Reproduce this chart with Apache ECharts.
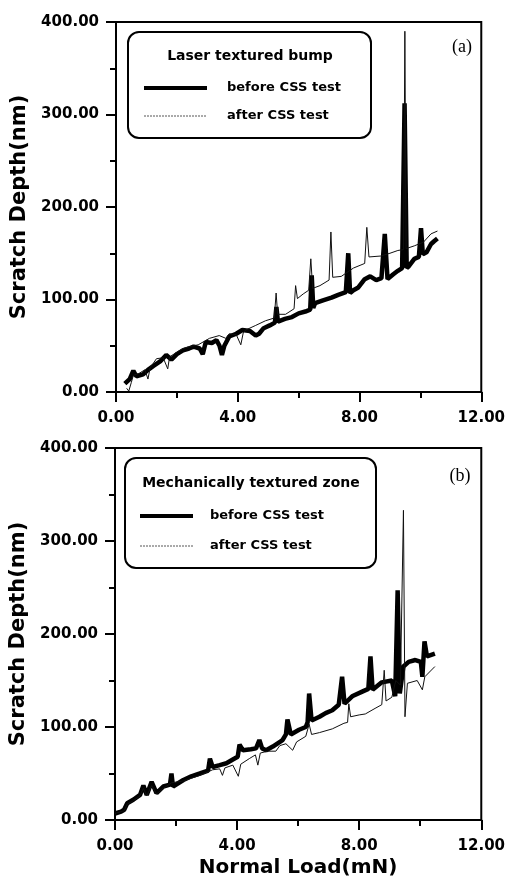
<!DOCTYPE html>
<html><head><meta charset="utf-8">
<script src="https://cdn.jsdelivr.net/npm/echarts@6/dist/echarts.min.js"></script>
<style>html,body{margin:0;padding:0;background:#fff}#c{width:508px;height:886px}</style>
</head><body><div id="c"></div>
<script>
// ---- data (x = Normal Load mN, y = Scratch Depth nm) ----
const topBefore = [[0.29,9],[0.45,14],[0.57,23],[0.67,17],[0.89,19],[1.05,24],[1.22,28],[1.45,33],[1.65,40],[1.82,35],[2.0,41],[2.2,45],[2.4,47],[2.55,49],[2.75,47],[2.85,41],[2.95,54],[3.15,53],[3.3,56],[3.4,50],[3.48,40],[3.56,50],[3.72,60],[3.95,63],[4.15,67],[4.4,66],[4.59,61],[4.7,63],[4.85,69],[5.05,72],[5.22,75],[5.27,92],[5.32,76],[5.55,79],[5.78,81],[6.0,85],[6.22,87],[6.38,89],[6.43,126],[6.48,91],[6.54,96],[6.8,99],[7.08,102],[7.3,105],[7.55,108],[7.63,150],[7.69,107],[7.8,110],[7.96,113],[8.17,122],[8.35,125],[8.55,121],[8.72,123],[8.83,171],[8.92,122],[9.1,127],[9.26,131],[9.4,134],[9.48,312],[9.55,134],[9.62,136],[9.8,144],[9.95,146],[10.02,177],[10.08,149],[10.2,151],[10.35,160],[10.45,163],[10.56,166]];
const topAfter = [[0.35,4],[0.42,1],[0.5,10],[0.57,18],[0.75,20],[0.95,24],[1.05,14],[1.12,26],[1.33,36],[1.55,37],[1.7,25],[1.76,38],[2.0,43],[2.2,47],[2.41,49],[2.7,51],[3.07,58],[3.39,61],[3.61,58],[3.72,63],[3.95,62],[4.1,51],[4.18,64],[4.26,67],[4.59,72],[4.91,77],[5.2,80],[5.26,107],[5.31,84],[5.57,84],[5.85,90],[5.9,115],[5.96,101],[6.15,106],[6.33,110],[6.4,144],[6.46,112],[6.7,115],[7.0,121],[7.06,173],[7.12,124],[7.4,125],[7.8,134],[8.17,139],[8.24,178],[8.31,146],[8.7,147],[9.0,150],[9.26,153],[9.45,154],[9.49,390],[9.53,155],[9.8,158],[10.1,162],[10.35,171],[10.56,174]];
const botBefore = [[0,7],[0.2,9],[0.3,11],[0.4,18],[0.61,22],[0.82,27],[0.93,37],[1.04,27],[1.2,41],[1.36,29],[1.58,36],[1.8,38],[1.85,50],[1.9,36],[2.24,43],[2.5,47],[2.78,50],[3.05,53],[3.11,66],[3.2,57],[3.43,59],[3.65,61],[3.86,65],[4.02,68],[4.08,81],[4.19,75],[4.45,76],[4.62,77],[4.73,86],[4.82,77],[4.95,75],[5.17,79],[5.49,86],[5.6,92],[5.65,108],[5.76,92],[6.03,97],[6.25,100],[6.31,105],[6.36,136],[6.44,107],[6.7,111],[6.9,115],[7.12,118],[7.33,124],[7.39,126],[7.44,154],[7.52,125],[7.77,133],[8.1,138],[8.3,141],[8.37,176],[8.44,140],[8.74,148],[9.07,150],[9.18,133],[9.26,247],[9.33,136],[9.45,165],[9.62,170],[9.84,172],[10.02,170],[10.07,154],[10.14,192],[10.22,176],[10.48,179]];
const botAfter = [[0,7],[0.3,10],[0.4,17],[0.61,21],[0.82,26],[0.93,34],[1.04,26],[1.2,37],[1.36,28],[1.58,34],[1.85,40],[2.24,42],[2.78,48],[3.2,54],[3.43,55],[3.52,48],[3.6,56],[3.86,59],[4.04,47],[4.12,60],[4.4,66],[4.6,70],[4.68,59],[4.76,72],[5.0,74],[5.27,74],[5.4,80],[5.6,82],[5.82,75],[5.95,84],[6.25,90],[6.36,103],[6.44,92],[6.7,94],[7.12,98],[7.5,104],[7.62,105],[7.66,125],[7.72,111],[8.0,113],[8.2,114],[8.52,120],[8.74,124],[8.82,161],[8.88,128],[9.07,132],[9.2,150],[9.35,145],[9.45,333],[9.5,111],[9.58,147],[9.9,150],[10.07,140],[10.15,154],[10.48,165]];
const xRange = [0, 12], xStep = 4;
const yRange = [0, 400], yStep = 100;
const legendTitles = ['Laser textured bump', 'Mechanically textured zone'];
const seriesNames = ['before CSS test', 'after CSS test'];
const panelTags = ['(a)', '(b)'];

const FONT = 'DejaVu Sans';
const lab = {fontFamily: FONT, fontWeight: 'bold', fontSize: 15, color: '#000'};
function xAx(i, withName){
  return {type:'value', gridIndex:i, min:xRange[0], max:xRange[1], interval:xStep,
    axisLine:{show:true,onZero:false,lineStyle:{color:'#000',width:2}},
    axisTick:{show:true,length:10,lineStyle:{color:'#000',width:2}},
    minorTick:{show:true,splitNumber:2,length:6,lineStyle:{color:'#000',width:2}},
    splitLine:{show:false},
    axisLabel:Object.assign({margin:19, formatter:v=>v.toFixed(2)}, lab),
    name: withName ? 'Normal Load(mN)' : '', nameLocation:'middle', nameGap:38,
    nameTextStyle:{fontFamily:FONT,fontWeight:'bold',fontSize:20,color:'#000'}};
}
function yAx(i){
  return {type:'value', gridIndex:i, min:yRange[0], max:yRange[1], interval:yStep,
    axisLine:{show:true,onZero:false,lineStyle:{color:'#000',width:2}},
    axisTick:{show:true,length:10,lineStyle:{color:'#000',width:2}},
    minorTick:{show:true,splitNumber:2,length:6,lineStyle:{color:'#000',width:2}},
    splitLine:{show:false},
    axisLabel:Object.assign({margin:17, formatter:v=>v.toFixed(2)}, lab),
    name:'Scratch Depth(nm)', nameLocation:'middle', nameGap:71, nameRotate:90,
    nameTextStyle:{fontFamily:FONT,fontWeight:'bold',fontSize:21,color:'#000'}};
}
function thick(i, d){ return {type:'line', xAxisIndex:i, yAxisIndex:i, data:d, showSymbol:false, symbol:'none', z:2,
  lineStyle:{color:'#000', width:4.5}}; }
function thin(i, d){ return {type:'line', xAxisIndex:i, yAxisIndex:i, data:d, showSymbol:false, symbol:'none', z:3,
  lineStyle:{color:'#111', width:1}}; }

function legendBox(x0, y0, w, h, titleX, titleY, lx0, lx1, tx, y1, y2, title, fs){
  return [
    {type:'rect', shape:{x:x0,y:y0,width:w,height:h,r:11}, style:{fill:'#fff',stroke:'#000',lineWidth:2}, z:10},
    {type:'text', style:{text:title,x:titleX,y:titleY,textAlign:'center',textVerticalAlign:'middle',font:'bold '+fs+'px "DejaVu Sans"',fill:'#000'}, z:11},
    {type:'line', shape:{x1:lx0,y1:y1,x2:lx1,y2:y1}, style:{stroke:'#000',lineWidth:4}, z:11},
    {type:'text', style:{text:seriesNames[0],x:tx,y:y1,textAlign:'left',textVerticalAlign:'middle',font:'bold 13px "DejaVu Sans"',fill:'#000'}, z:11},
    {type:'line', shape:{x1:lx0,y1:y2,x2:lx1,y2:y2}, style:{stroke:'#555',lineWidth:1,lineDash:[2,1]}, z:11},
    {type:'text', style:{text:seriesNames[1],x:tx,y:y2,textAlign:'left',textVerticalAlign:'middle',font:'bold 13px "DejaVu Sans"',fill:'#000'}, z:11}
  ];
}

const chart = echarts.init(document.getElementById('c'), null, {renderer:'canvas'});
chart.setOption({
  animation:false,
  backgroundColor:'#fff',
  grid:[
    {left:116, top:22, width:369, height:370, show:true, borderColor:'#000', borderWidth:2, backgroundColor:'transparent'},
    {left:115, top:448, width:369, height:372, show:true, borderColor:'#000', borderWidth:2, backgroundColor:'transparent'}
  ],
  xAxis:[xAx(0,false), xAx(1,true)],
  yAxis:[yAx(0), yAx(1)],
  series:[thick(0, topBefore), thin(0, topAfter), thick(1, botBefore), thin(1, botAfter)],
  graphic:[].concat(
    legendBox(128, 32, 243, 106, 250, 56, 144, 207, 227, 88, 116, legendTitles[0], 14),
    legendBox(125, 458, 251, 110, 251, 483, 140, 193, 210, 516, 546, legendTitles[1], 14),
    [
      {type:'text', style:{text:panelTags[0],x:462,y:47,textAlign:'center',textVerticalAlign:'middle',font:'18px "Liberation Serif"',fill:'#000'}, z:11},
      {type:'text', style:{text:panelTags[1],x:460,y:476,textAlign:'center',textVerticalAlign:'middle',font:'18px "Liberation Serif"',fill:'#000'}, z:11}
    ]
  )
});
</script></body></html>
